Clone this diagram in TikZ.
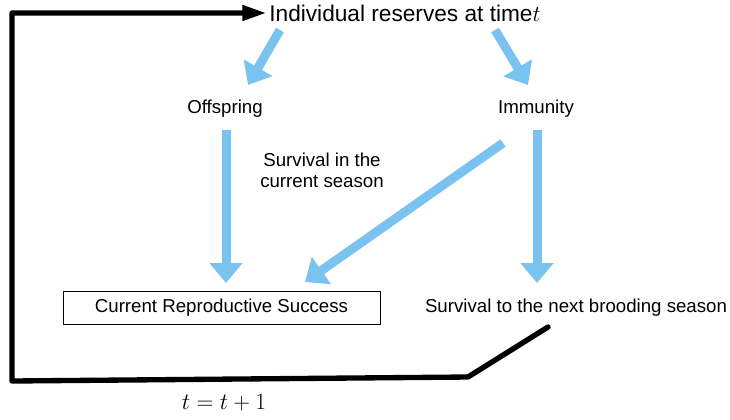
\RequirePackage{fix-cm}
\documentclass[tikz,border=0pt]{standalone}
\usepackage[no-math]{fontspec}
\setmainfont{Liberation Sans}
\usetikzlibrary{arrows.meta, calc}
\definecolor{flowblue}{RGB}{122,194,240}

\begin{document}
\begin{tikzpicture}[
    x=0.75pt, y=-0.75pt,
    lbl/.style={font=\fontsize{14}{16}\selectfont, align=center},
    box/.style={rectangle, draw, line width=0.6pt, minimum width=237.75pt, minimum height=24.75pt, inner sep=0pt, font=\fontsize{14}{16}\selectfont},
    flow/.style={-{Triangle[length=15pt, width=24pt]}, line width=6.75pt, draw=flowblue},
    backline/.style={-{Triangle[length=18pt, width=11pt]}, line width=4pt, line cap=round, line join=round}
]
\useasboundingbox (0,0) rectangle (730,419);
\node[font=\fontsize{17}{20}\selectfont, inner sep=2pt] (res) at (405,13) {Individual reserves at time$t$};
\node[lbl] (off) at (225,109) {Offspring};
\node[lbl] (imm) at (536,109) {Immunity};
\node[lbl] (cur) at (322,170) {Survival in the\\current season};
\node[box] (crs) at (221.5,307.5) {Current Reproductive Success};
\node[lbl] (surv) at (576,308) {Survival to the next brooding season};
\node[font=\fontsize{17.5}{20}\selectfont] (tt) at (224,403) {$t=t+1$};
\draw[flow] ($(res)+(-125,17)$) -- ($(off)+(23,-24)$);
\draw[flow] ($(res)+(90,17)$) -- ($(imm)+(-8,-24)$);
\draw[flow] ($(off)+(1,21)$) -- ($(crs)+(4.5,-24.5)$);
\draw[flow] ($(imm)+(-33,34)$) -- ($(crs)+(83.5,-25.5)$);
\draw[flow] ($(imm)+(1,21)$) -- ($(surv)+(-39,-25)$);
\coordinate (kink) at (468,377);
\coordinate (lb) at (12,381);
\coordinate (lt) at (12,13);
\draw[backline] ($(surv)+(-28,19)$) -- (kink) -- (lb) -- (lt) -- (res.west);
\end{tikzpicture}
\end{document}
